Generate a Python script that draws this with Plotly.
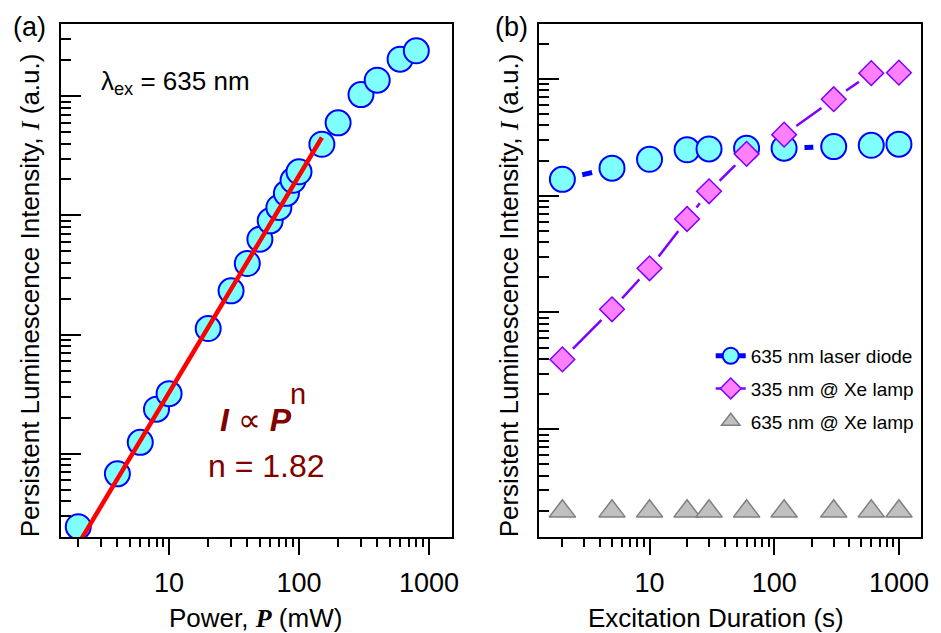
import plotly.graph_objects as go

# ---------------- data ----------------
# panel (a): persistent luminescence vs excitation power
power_mw = [2, 4, 6, 8, 10, 20, 30, 40, 50, 60, 70, 80, 90, 100, 150, 200, 300, 400, 600, 800]
intensity_power = [24.5, 68, 125, 237, 320, 1125, 2330, 3950, 6310, 9000, 11650, 15300,
                   19700, 23200, 39500, 59700, 103000, 136000, 204000, 240000]
fit_power = [2, 150]
fit_intensity = [17.5, 45000]

# panel (b): persistent luminescence vs excitation duration
duration_s = [2, 5, 10, 20, 30, 60, 120, 300, 600, 1000]
laser_635 = [13800, 17200, 20500, 24700, 25100, 25500, 25500, 26300, 27000, 27600]
xe_335 = [396, 1064, 2388, 6310, 10900, 22800, 33300, 67000, 112000, 113000]
xe_635 = [19.8, 19.8, 19.8, 19.8, 19.8, 19.8, 19.8, 19.8, 19.8, 19.8]

x_major = [10, 100, 1000]
x_major_text = ["10", "100", "1000"]
y_major = [1e2, 1e3, 1e4, 1e5]

FONT = "Arial, 'Liberation Sans', sans-serif"
CYAN = "#80FFFF"
BLUE = "#0000FF"
PINK = "#FF80FF"
PURPLE = "#8000FF"
DARKRED = "#800000"

def minors(decades):
    return [m * 10 ** d for d in decades for m in range(2, 10)]

x_minor = minors([0, 1, 2])
y_minor = minors([1, 2, 3, 4, 5])

fig = go.Figure()

# ---- panel (a)
fig.add_trace(go.Scatter(
    x=power_mw, y=intensity_power, mode="markers", showlegend=False,
    marker=dict(symbol="circle", size=25, color=CYAN, line=dict(color=BLUE, width=2)),
    xaxis="x", yaxis="y"))
fig.add_trace(go.Scatter(
    x=fit_power, y=fit_intensity, mode="lines", showlegend=False,
    line=dict(color="#FF0000", width=4.5), xaxis="x", yaxis="y"))

# ---- panel (b)
fig.add_trace(go.Scatter(
    x=duration_s, y=laser_635, mode="lines+markers", name="635 nm laser diode",
    legendgroup="g1", legendrank=1,
    line=dict(color=BLUE, width=5),
    marker=dict(symbol="circle", size=25, color=CYAN, line=dict(color=BLUE, width=2)),
    xaxis="x2", yaxis="y2"))
fig.add_trace(go.Scatter(
    x=duration_s, y=xe_335, mode="lines+markers", name="335 nm @ Xe lamp",
    legendgroup="g2", legendrank=2,
    line=dict(color=PURPLE, width=2.5),
    marker=dict(symbol="diamond", size=19, color=PINK, line=dict(color=PURPLE, width=1.5)),
    xaxis="x2", yaxis="y2"))
# white halos giving the gaps of the connecting lines around the symbols
fig.add_trace(go.Scatter(
    x=duration_s, y=laser_635, mode="markers", showlegend=False, hoverinfo="skip",
    marker=dict(symbol="circle", size=41, color="white"), xaxis="x2", yaxis="y2"))
fig.add_trace(go.Scatter(
    x=duration_s, y=xe_335, mode="markers", showlegend=False, hoverinfo="skip",
    marker=dict(symbol="circle", size=30, color="white"), xaxis="x2", yaxis="y2"))
fig.add_trace(go.Scatter(
    x=duration_s, y=laser_635, mode="markers", showlegend=False,
    marker=dict(symbol="circle", size=25, color=CYAN, line=dict(color=BLUE, width=2)),
    xaxis="x2", yaxis="y2"))
fig.add_trace(go.Scatter(
    x=duration_s, y=xe_335, mode="markers", showlegend=False,
    marker=dict(symbol="diamond", size=19, color=PINK, line=dict(color=PURPLE, width=1.5)),
    xaxis="x2", yaxis="y2"))
fig.add_trace(go.Scatter(
    x=duration_s, y=xe_635, mode="markers", name="635 nm @ Xe lamp",
    legendgroup="g3", legendrank=3,
    marker=dict(symbol="triangle-up", size=23, color="#C0C0C0", line=dict(color="#808080", width=1.5)),
    xaxis="x2", yaxis="y2"))

LW = 1.6

def xaxis(domain, rng, anchor):
    return dict(type="log", domain=domain, range=rng, anchor=anchor,
                tickmode="array", tickvals=x_major, ticktext=x_major_text,
                ticks="outside", ticklen=16, tickwidth=LW, tickcolor="black",
                ticklabelstandoff=5,
                showline=True, linecolor="black", linewidth=LW, mirror=True,
                showgrid=False, zeroline=False,
                tickfont=dict(family=FONT, size=27, color="black"),
                minor=dict(tickmode="array", tickvals=x_minor, ticks="outside",
                           ticklen=8, tickwidth=LW, tickcolor="black", showgrid=False))

def yaxis(domain, rng, anchor):
    return dict(type="log", domain=domain, range=rng, anchor=anchor,
                tickmode="array", tickvals=y_major, showticklabels=False,
                ticks="inside", ticklen=20, tickwidth=LW, tickcolor="black",
                showline=True, linecolor="black", linewidth=LW, mirror=True,
                showgrid=False, zeroline=False,
                minor=dict(tickmode="array", tickvals=y_minor, ticks="inside",
                           ticklen=10, tickwidth=LW, tickcolor="black", showgrid=False))

def top_axis(over, domain, rng, anchor):
    return dict(type="log", overlaying=over, side="top", domain=domain, range=rng,
                anchor=anchor, tickmode="array", tickvals=x_major + x_minor,
                showticklabels=False, ticks="inside", ticklen=3, tickwidth=1,
                tickcolor="black", showline=False, showgrid=False, zeroline=False)

def right_axis(over, domain, rng, anchor):
    return dict(type="log", overlaying=over, side="right", domain=domain, range=rng,
                anchor=anchor, tickmode="array", tickvals=y_major + y_minor,
                showticklabels=False, ticks="inside", ticklen=3, tickwidth=1,
                tickcolor="black", showline=False, showgrid=False, zeroline=False)

XA_RANGE = [0.168, 3.176]
YA_RANGE = [1.303, 5.605]
XB_RANGE = [0.112, 3.177]
YB_RANGE = [1.077, 5.47]
DA = [0, 0.4544]
DB = [0.5556, 1]

SERIF_SPAN = "<span style='font-family:Times New Roman, Liberation Serif, serif'>"
ytitle = "Persistent Luminescence Intensity, " + SERIF_SPAN + "<i>I</i></span> (a.u.)"


def ann(text, x, y, size, color="black", **kw):
    return dict(text=text, x=x, y=y, xref="paper", yref="paper", showarrow=False,
                xanchor="center", yanchor="middle",
                font=dict(family=FONT, size=size, color=color), **kw)


annotations = [
    ann("(a)", -0.0363, 0.9932, 27),
    ann("(b)", 0.5236, 0.9942, 27),
    ann(ytitle, -0.0358, 0.4717, 26, textangle=-90),
    ann(ytitle, 0.5213, 0.4717, 26, textangle=-90),
    ann("Power, " + SERIF_SPAN + "<b><i>P</i></b></span> (mW)", 0.2266, -0.158, 26),
    ann("Excitation Duration (s)", 0.7618, -0.158, 26),
    ann("λ<sub>ex</sub> = 635 nm", 0.1332, 0.886, 26),
    ann("<b><i>I</i></b> ∝ <b><i>P</i></b>", 0.2266, 0.2271, 32, DARKRED),
    ann("n", 0.2751, 0.2778, 29, DARKRED),
    ann("n = 1.82", 0.2388, 0.1384, 32, DARKRED),
]

# the page body adds an 8 px offset, so the figure is 8 px smaller and its margins shifted
fig.update_layout(
    width=933, height=625,
    margin=dict(l=53, r=13, t=16, b=96),
    paper_bgcolor="white", plot_bgcolor="white",
    font=dict(family=FONT, color="black"),
    xaxis=xaxis(DA, XA_RANGE, "y"),
    yaxis=yaxis([0, 1], YA_RANGE, "x"),
    xaxis2=xaxis(DB, XB_RANGE, "y2"),
    yaxis2=yaxis([0, 1], YB_RANGE, "x2"),
    xaxis3=top_axis("x", DA, XA_RANGE, "y"),
    yaxis3=right_axis("y", [0, 1], YA_RANGE, "x"),
    xaxis4=top_axis("x2", DB, XB_RANGE, "y2"),
    yaxis4=right_axis("y2", [0, 1], YB_RANGE, "x2"),
    showlegend=True,
    legend=dict(x=0.7555, y=0.39, xanchor="left", yanchor="top",
                bgcolor="rgba(0,0,0,0)", borderwidth=0,
                font=dict(family=FONT, size=19, color="black"),
                tracegroupgap=5, traceorder="grouped"),
    annotations=annotations,
)

fig.write_html("out.html")
